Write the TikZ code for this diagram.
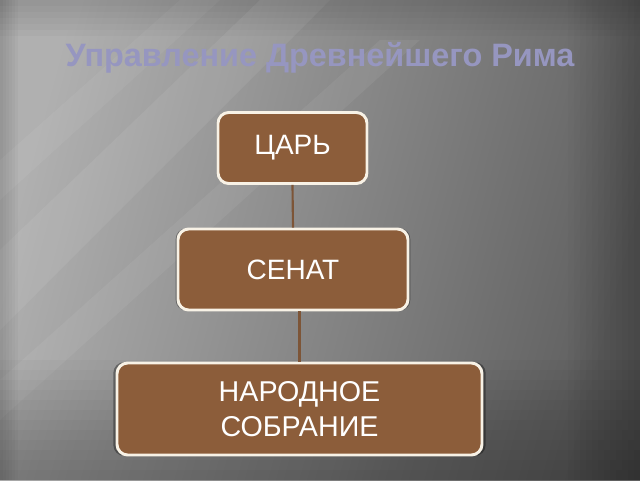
\documentclass[tikz,border=0pt]{standalone}
\usepackage{fontspec}
\setmainfont{Liberation Sans}
\usetikzlibrary{shadows}
\definecolor{bgLight}{RGB}{176,176,176}
\definecolor{bgMid}{RGB}{130,130,130}
\definecolor{bgDark}{RGB}{96,96,96}
\definecolor{titleCol}{RGB}{150,150,192}
\definecolor{boxFill}{RGB}{140,93,58}
\definecolor{boxEdge}{RGB}{248,242,230}
\definecolor{linkCol}{RGB}{125,85,55}
\tikzset{
  orgbox/.style={rectangle, rounded corners=8pt, fill=boxFill, draw=boxEdge,
    line width=2.2pt, text=white, align=center, inner sep=0pt,
    font=\fontsize{21pt}{26pt}\selectfont,
    general shadow={shadow scale=1.02, fill=black, opacity=0.35}},
  link/.style={draw=linkCol, line width=1.6pt}
}
\begin{document}
\begin{tikzpicture}[x=0.75pt,y=-0.75pt]
\useasboundingbox (0,0) rectangle (640,480);
% background
\shade[left color=bgLight, middle color=bgMid, right color=bgDark, shading angle=75] (0,0) rectangle (640,480);
\fill[white, opacity=0.07] (0,330) -- (0,250) -- (260,0) -- (330,0) -- cycle;
\fill[white, opacity=0.06] (0,420) -- (0,380) -- (380,40) -- (420,40) -- cycle;
\fill[white, opacity=0.05] (0,200) -- (0,160) -- (180,0) -- (220,0) -- cycle;
\foreach \k in {0,...,11}{
  \fill[black, opacity=0.022] (0,{480-10*\k-10}) rectangle (640,480);
  \fill[black, opacity=0.015] ({640-6*\k-6},0) rectangle (640,480);
}
\foreach \k in {0,...,5}{
  \fill[black, opacity=0.025] (0,0) rectangle (640,{6*\k+6});
  \fill[black, opacity=0.025] (0,0) rectangle ({3*\k+3},480);
}
% title
\node[text=titleCol, font=\bfseries\fontsize{24.3pt}{28pt}\selectfont] (title) at (320,58) {Управление Древнейшего Рима};
% boxes
\node[orgbox, minimum width=111.75pt, minimum height=53.25pt] (tsar) at (292.5,148) {ЦАРЬ};
\node[orgbox, minimum width=172.5pt, minimum height=60.75pt] (senat) at (293,269.5) {СЕНАТ};
\node[orgbox, minimum width=273.75pt, minimum height=69pt, font=\fontsize{21.5pt}{26.25pt}\selectfont] (narod) at (299.5,409) {НАРОДНОЕ\\СОБРАНИЕ};
% connectors
\draw[link] (tsar.south) -- (senat.north);
\draw[link] (narod.north) -- (narod.north |- senat.south);
\end{tikzpicture}
\end{document}
